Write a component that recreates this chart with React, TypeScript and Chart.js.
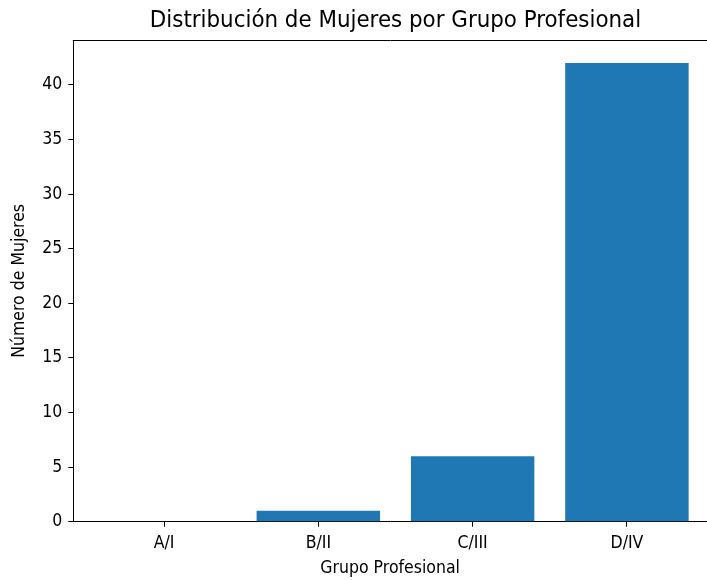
import React, { useEffect, useRef } from "react";
import { Chart, registerables } from "chart.js";

Chart.register(...registerables);

const categories = ["A/I", "B/II", "C/III", "D/IV"];
const values = [0, 1, 6, 42];
const yTicks = [0, 5, 10, 15, 20, 25, 30, 35, 40];
const titleText = "Distribución de Mujeres por Grupo Profesional";

const FONT = "'DejaVu Sans Condensed', 'DejaVu Sans', sans-serif";
const X_MIN = -0.588;
const X_FULL_MAX = 3.588;

const frame = {
  id: "frame",
  afterDraw(chart: any) {
    const { ctx, chartArea, scales } = chart;
    const rightEdge = scales.x.getPixelForValue(X_FULL_MAX);
    const topY = Math.round(chartArea.top) + 0.5;
    ctx.save();
    ctx.strokeStyle = "#000";
    ctx.lineWidth = 1;
    ctx.beginPath();
    ctx.moveTo(chartArea.left - 0.5, topY);
    ctx.lineTo(rightEdge, topY);
    ctx.stroke();
    ctx.fillStyle = "#000";
    ctx.font = `normal 23.8px ${FONT}`;
    ctx.textAlign = "center";
    ctx.textBaseline = "middle";
    ctx.fillText(titleText, (chartArea.left + rightEdge) / 2, 21);
    ctx.restore();
  },
};

export default function App() {
  const ref = useRef<HTMLCanvasElement>(null);
  useEffect(() => {
    const data = values.map((v, i) => ({ x: i, y: v }));
    const chart = new Chart(ref.current!, {
      type: "bar",
      data: {
        datasets: [
          {
            data,
            backgroundColor: "#1f77b4",
            borderWidth: 0,
            barPercentage: 0.8,
            categoryPercentage: 1,
          },
        ],
      },
      options: {
        animation: false,
        responsive: false,
        layout: { padding: { top: 40, left: 0, right: 0, bottom: 0 } },
        plugins: {
          legend: { display: false },
          tooltip: { enabled: false },
          title: { display: false },
        },
        scales: {
          x: {
            type: "linear",
            offset: false,
            min: X_MIN,
            max: 3.519,
            afterBuildTicks(scale: any) {
              scale.ticks = categories.map((_, i) => ({ value: i }));
            },
            afterFit(scale: any) {
              scale.height = 58.3;
            },
            grid: {
              offset: false,
              drawOnChartArea: false,
              drawTicks: true,
              tickLength: 5,
              color: "#000",
            },
            border: { display: true, color: "#000", width: 1 },
            ticks: {
              color: "#000",
              font: { family: FONT, size: 17.5 },
              padding: 6,
              maxRotation: 0,
              autoSkip: false,
              callback: (v: any) => categories[Math.round(Number(v))] ?? "",
            },
            title: {
              display: true,
              text: "Grupo Profesional",
              color: "#000",
              font: { family: FONT, size: 17.5 },
              padding: { top: 0, bottom: 1.5 },
            },
          },
          y: {
            type: "linear",
            min: 0,
            max: 44.1,
            afterBuildTicks(scale: any) {
              scale.ticks = yTicks.map((v) => ({ value: v }));
            },
            afterFit(scale: any) {
              scale.width = 73.3;
            },
            grid: {
              drawOnChartArea: false,
              drawTicks: true,
              tickLength: 5,
              color: "#000",
            },
            border: { display: true, color: "#000", width: 1 },
            ticks: {
              color: "#000",
              font: { family: FONT, size: 17.5 },
              padding: 6,
            },
            title: {
              display: true,
              text: "Número de Mujeres",
              color: "#000",
              font: { family: FONT, size: 17.5 },
              padding: { top: 9, bottom: 0 },
            },
          },
        },
      },
      plugins: [frame],
    } as any);
    return () => chart.destroy();
  }, []);
  return (
    <div style={{ position: "absolute", left: 0, top: 0, width: 707, height: 580, overflow: "hidden" }}>
      <canvas ref={ref} width={707} height={580} style={{ display: "block" }} />
    </div>
  );
}
